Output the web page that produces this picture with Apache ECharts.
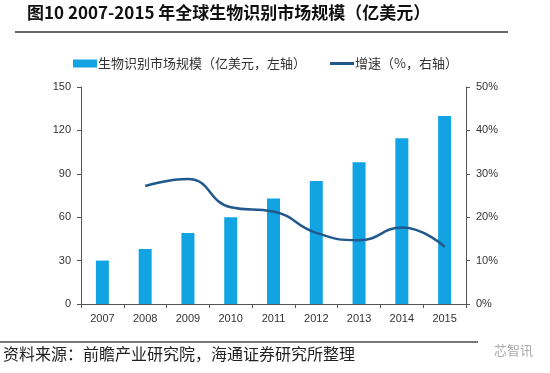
<!DOCTYPE html>
<html><head><meta charset="utf-8">
<script src="https://cdn.jsdelivr.net/npm/echarts@6/dist/echarts.min.js"></script>
<style>html,body{margin:0;padding:0;background:#fff}#c{width:550px;height:373px}</style>
</head><body><div id="c"></div>
<script>
var years = ['2007','2008','2009','2010','2011','2012','2013','2014','2015'];
var marketSize = [30, 38, 49, 60, 73, 85, 98, 114.5, 130];
var growthRate = [null, 27.2, 28.8, 22.3, 21.3, 16.4, 14.7, 17.6, 13.2];
var leftTicks = [0, 30, 60, 90, 120, 150];
var rightTicks = [0, 10, 20, 30, 40, 50];

var CJK = '"Noto Sans CJK SC", "Noto Sans", sans-serif';
var LAT = '"Liberation Sans", Arial, sans-serif';
var chart = echarts.init(document.getElementById('c'));
chart.setOption({
  animation: false,
  backgroundColor: '#fff',
  grid: {left: 81, right: 84, top: 87, bottom: 69},
  legend: [{
    left: 68, top: 52, itemWidth: 24, itemHeight: 8, itemGap: 20,
    data: [{name: '生物识别市场规模（亿美元，左轴）', icon: 'rect'}],
    textStyle: {fontFamily: CJK, fontSize: 13, color: '#333', padding: [0,0,0,-4]}
  }, {
    left: 325, top: 52, itemWidth: 24, itemHeight: 3,
    data: [{name: '增速（%，右轴）', icon: 'rect'}],
    textStyle: {fontFamily: CJK, fontSize: 13, color: '#333', padding: [0,0,0,-4]}
  }],
  xAxis: {
    type: 'category', data: years,
    axisLine: {lineStyle: {color: '#555', width: 1}},
    axisTick: {show: true, length: 4, inside: false, lineStyle: {color: '#555'}},
    axisLabel: {fontFamily: LAT, fontSize: 11, color: '#333', margin: 9}
  },
  yAxis: [{
    type: 'value', min: 0, max: 150, interval: 30,
    axisLine: {show: true, lineStyle: {color: '#555'}},
    axisTick: {show: true, length: 4, lineStyle: {color: '#555'}},
    splitLine: {show: false},
    axisLabel: {fontFamily: LAT, fontSize: 11, color: '#333', margin: 10}
  }, {
    type: 'value', min: 0, max: 50, interval: 10, position: 'right',
    axisLine: {show: true, lineStyle: {color: '#555'}},
    axisTick: {show: true, length: 4, lineStyle: {color: '#555'}},
    splitLine: {show: false},
    axisLabel: {fontFamily: LAT, fontSize: 11, color: '#333', margin: 10, formatter: '{value}%'}
  }],
  series: [{
    name: '生物识别市场规模（亿美元，左轴）', type: 'bar', data: marketSize,
    barWidth: 13, itemStyle: {color: '#12a3e3'}
  }, {
    name: '增速（%，右轴）', type: 'line', yAxisIndex: 1, data: growthRate,
    smooth: 0.5, showSymbol: false, symbol: 'none',
    lineStyle: {color: '#21598c', width: 2.5}, itemStyle: {color: '#21598c'}
  }],
  graphic: [
    {type: 'text', left: 27, top: 4, style: {text: '图10 2007-2015 年全球生物识别市场规模（亿美元）', font: 'bold 17px ' + CJK, fill: '#111'}},
    {type: 'rect', shape: {x: 15, y: 31, width: 493, height: 2}, style: {fill: '#666'}},
    {type: 'rect', shape: {x: 0, y: 341, width: 478, height: 2}, style: {fill: '#777'}},
    {type: 'text', left: 3, top: 346, style: {text: '资料来源：前瞻产业研究院，海通证券研究所整理', font: '16px ' + CJK, fill: '#222'}},
    {type: 'text', left: 494, top: 344, style: {text: '芯智讯', font: '13px ' + CJK, fill: '#aaa'}}
  ]
});
</script></body></html>
